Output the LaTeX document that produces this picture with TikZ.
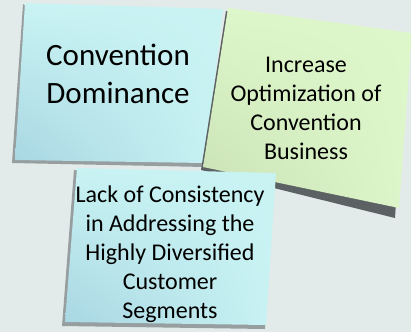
\documentclass[tikz,border=0pt]{standalone}
\usepackage{fontspec}
\setmainfont{Carlito}
\usetikzlibrary{shadings}
\definecolor{bg}{RGB}{227,235,234}
\definecolor{blueL}{RGB}{201,243,243}
\definecolor{blueD}{RGB}{168,214,226}
\definecolor{greenL}{RGB}{222,247,202}
\definecolor{greenD}{RGB}{200,224,180}
\definecolor{shadowA}{RGB}{150,158,160}
\definecolor{shadowB}{RGB}{92,98,100}
\begin{document}
\begin{tikzpicture}[x=1pt,y=-1pt,
  txt/.style={align=center,inner sep=0pt,text=black},
  bigtxt/.style={txt,font=\fontsize{31}{38}\selectfont},
  smalltxt/.style={txt,font=\fontsize{24}{29}\selectfont}]
\useasboundingbox (0,0) rectangle (411,332);
\fill[bg] (0,0) rectangle (411,332);
% note 1 (top-left, blue)
\fill[shadowA] (23,4) -- (12,163) -- (205,167) -- (206,160) -- cycle;
\shade[upper left=blueL, upper right=blueL, lower left=blueD, lower right=blueL]
  (25,3) -- (223,9) -- (205,163) -- (15,160) -- cycle;
% note 2 (right, green)
\fill[shadowB] (226,11) -- (201,170) -- (395,218) -- (405,60) -- cycle;
\shade[upper left=greenL, upper right=greenL, lower left=greenD, lower right=greenL]
  (228,8) -- (412,33) -- (399,208) -- (203,167) -- cycle;
% note 3 (bottom, blue)
\fill[shadowA] (74,170) -- (62,326) -- (265,329) -- (270,200) -- cycle;
\shade[upper left=blueL, upper right=blueL, lower left=blueD, lower right=blueL]
  (77,168) -- (276,173) -- (266,325) -- (65,322) -- cycle;
% texts
\node[bigtxt] (t1) at (118,74) {Convention\\Dominance};
\node[smalltxt] (t2) at (306,108) {Increase\\Optimization of\\Convention\\Business};
\node[smalltxt] (t3) at (170,254) {Lack of Consistency\\in Addressing the\\Highly Diversified\\Customer\\Segments};
\end{tikzpicture}
\end{document}
